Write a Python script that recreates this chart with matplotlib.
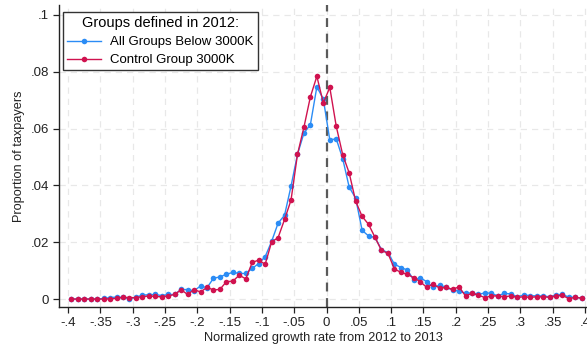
import numpy as np
import matplotlib
matplotlib.use("Agg")
import matplotlib.pyplot as plt
from matplotlib.ticker import FixedLocator

plt.rcParams['font.family'] = ['Liberation Sans', 'DejaVu Sans']

# Bin centres of the normalized growth rate (width 0.01)
bin_centers = np.round(np.arange(-0.395, 0.4, 0.01), 3)

below_3000k = [
    0.0, 0.0, 0.0, 0.0, 0.0, 0.0002, 0.0005, 0.0007, 0.0006, 0.0001,
    0.0006, 0.0014, 0.0015, 0.0016, 0.0012, 0.0016, 0.0016, 0.0034, 0.0033, 0.0029,
    0.0046, 0.0040, 0.0073, 0.0078, 0.0087, 0.0094, 0.0090, 0.0090, 0.0108, 0.0125,
    0.0149, 0.0203, 0.0267, 0.0295, 0.0397, 0.0509, 0.0584, 0.0614, 0.0747, 0.0704,
    0.0560, 0.0564, 0.0494, 0.0394, 0.0355, 0.0242, 0.0222, 0.0217, 0.0174, 0.0163,
    0.0123, 0.0111, 0.0102, 0.0067, 0.0075, 0.0061, 0.0041, 0.0049, 0.0041, 0.0032,
    0.0028, 0.0020, 0.0022, 0.0016, 0.0022, 0.0020, 0.0011, 0.0020, 0.0018, 0.0008,
    0.0014, 0.0012, 0.0011, 0.0011, 0.0008, 0.0014, 0.0017, 0.0006, 0.0006, 0.0003,
]

control_3000k = [
    0.0, 0.0, 0.0, 0.0, 0.0, 0.0, 0.0001, 0.0002, 0.0006, 0.0005,
    0.0005, 0.0008, 0.0011, 0.0009, 0.0008, 0.0011, 0.0016, 0.0033, 0.0016, 0.0033,
    0.0025, 0.0041, 0.0032, 0.0034, 0.0061, 0.0063, 0.0084, 0.0071, 0.0129, 0.0137,
    0.0122, 0.0201, 0.0216, 0.0280, 0.0348, 0.0509, 0.0605, 0.0712, 0.0784, 0.0690,
    0.0745, 0.0608, 0.0508, 0.0444, 0.0345, 0.0291, 0.0263, 0.0217, 0.0171, 0.0161,
    0.0106, 0.0094, 0.0087, 0.0075, 0.0061, 0.0041, 0.0053, 0.0038, 0.0041, 0.0034,
    0.0043, 0.0011, 0.0020, 0.0014, 0.0005, 0.0011, 0.0011, 0.0008, 0.0011, 0.0006,
    0.0008, 0.0006, 0.0008, 0.0008, 0.0006, 0.0011, 0.0013, 0.0001, 0.0006, 0.0003,
]

x_ticks = [-0.4, -0.35, -0.3, -0.25, -0.2, -0.15, -0.1, -0.05, 0,
           0.05, 0.1, 0.15, 0.2, 0.25, 0.3, 0.35, 0.4]
x_tick_labels = ['-.4', '-.35', '-.3', '-.25', '-.2', '-.15', '-.1', '-.05', '0',
                 '.05', '.1', '.15', '.2', '.25', '.3', '.35', '.4']
y_ticks = [0, 0.02, 0.04, 0.06, 0.08, 0.1]
y_tick_labels = ['0', '.02', '.04', '.06', '.08', '.1']

series_labels = ['All Groups Below 3000K', 'Control Group 3000K']
legend_title = 'Groups defined in 2012:'

blue = '#2b8cf5'
red = '#d0124f'

fig = plt.figure(figsize=(5.87, 3.45), dpi=100)
ax = fig.add_axes([59 / 587, 1 - 307 / 345, 1 - 59 / 587, (307 - 5) / 345])

ax.plot(bin_centers, below_3000k, color=blue, lw=1.0, marker='o', ms=4.0,
        markeredgewidth=0, label=series_labels[0], zorder=3)
ax.plot(bin_centers, control_3000k, color=red, lw=1.0, marker='o', ms=4.0,
        markeredgewidth=0, label=series_labels[1], zorder=4)

ax.axvline(0, color='#5a5a5a', lw=1.6, ls=(0, (4, 3)), zorder=2)

ax.set_xlim(-0.414, 0.403)
ax.set_ylim(-0.0028, 0.1035)

ax.xaxis.set_major_locator(FixedLocator(x_ticks))
ax.set_xticklabels(x_tick_labels)
ax.yaxis.set_major_locator(FixedLocator(y_ticks))
ax.set_yticklabels(y_tick_labels)

ax.grid(True, color='#e8e8e8', lw=0.9, ls=(0, (5, 4)), zorder=0)
ax.set_axisbelow(True)

for side in ('top', 'right'):
    ax.spines[side].set_visible(False)
for side in ('left', 'bottom'):
    ax.spines[side].set_color('#222222')
    ax.spines[side].set_linewidth(1.0)

ax.tick_params(axis='both', direction='out', length=4, width=0.9,
               color='#222222', labelsize=9.5, labelcolor='#222222', pad=3)

ax.set_xlabel('Normalized growth rate from 2012 to 2013', fontsize=9.2,
              color='#222222', labelpad=2)
ax.set_ylabel('Proportion of taxpayers', fontsize=9.2, color='#222222', labelpad=4)

leg = ax.legend(loc='upper left', bbox_to_anchor=(4 / 528, 1 - 7 / 302),
                borderaxespad=0, title=legend_title, fontsize=9.5,
                title_fontsize=10.5, frameon=True, fancybox=False,
                handlelength=2.6, borderpad=0.3, labelspacing=0.45,
                handletextpad=0.7)
leg.get_frame().set_edgecolor('#333333')
leg.get_frame().set_linewidth(1.0)
leg.get_frame().set_alpha(1)

fig.savefig('out.png', dpi=100)
